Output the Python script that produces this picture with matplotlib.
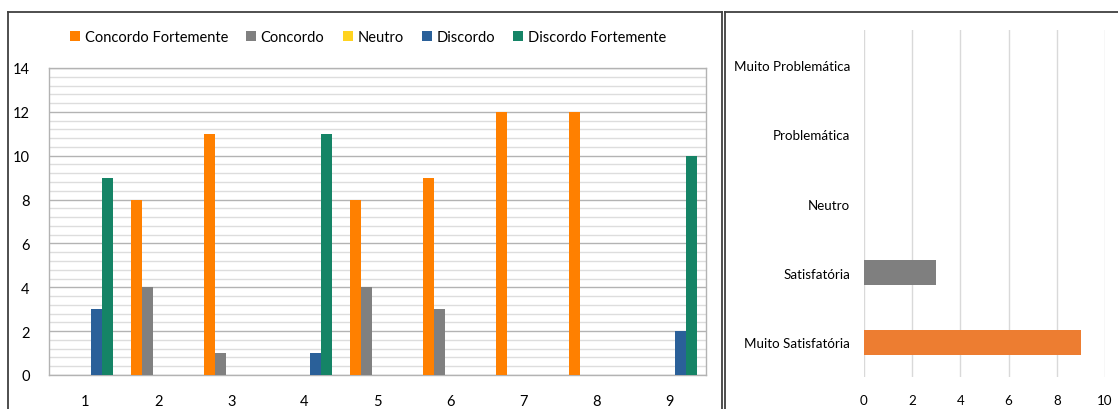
import numpy as np
import matplotlib
matplotlib.use("Agg")
import matplotlib.pyplot as plt
from matplotlib.lines import Line2D
from matplotlib.ticker import MultipleLocator

plt.rcParams['font.family'] = ['Lato', 'DejaVu Sans']

# left chart: answers per question
questions = ["1", "2", "3", "4", "5", "6", "7", "8", "9"]
series_names = ["Concordo Fortemente", "Concordo", "Neutro", "Discordo", "Discordo Fortemente"]
concordo_fortemente = [0, 8, 11, 0, 8, 9, 12, 12, 0]
concordo = [0, 4, 1, 0, 4, 3, 0, 0, 0]
neutro = [0, 0, 0, 0, 0, 0, 0, 0, 0]
discordo = [3, 0, 0, 1, 0, 0, 0, 0, 2]
discordo_fortemente = [9, 0, 0, 11, 0, 0, 0, 0, 10]
series_colors = ["#ff8000", "#808080", "#ffd320", "#2a6099", "#158466"]

# right chart: overall rating
ratings = ["Muito Satisfatória", "Satisfatória", "Neutro", "Problemática", "Muito Problemática"]
rating_counts = [9, 3, 0, 0, 0]
rating_colors = ["#ed7d31", "#7f7f7f", "#a5a5a5", "#ffc000", "#4472c4"]

W, H = 1118, 410
fig = plt.figure(figsize=(W / 100, H / 100), dpi=100)

# --- left panel ---
ax = fig.add_axes([49 / W, 1 - 376 / H, (706 - 49) / W, (376 - 69) / H])
x = np.arange(1, len(questions) + 1)
bw = 0.151
all_series = [concordo_fortemente, concordo, neutro, discordo, discordo_fortemente]
for i, (vals, name, col) in enumerate(zip(all_series, series_names, series_colors)):
    ax.bar(x + (i - 2) * bw, vals, width=bw, color=col, label=name, zorder=3)

ax.set_xlim(0.5, 9.5)
ax.set_ylim(0, 14)
ax.yaxis.set_major_locator(MultipleLocator(2))
ax.yaxis.set_minor_locator(MultipleLocator(0.4))
ax.grid(axis='y', which='major', color='#b3b3b3', lw=1.0, zorder=0)
ax.grid(axis='y', which='minor', color='#dddddd', lw=1.0, zorder=0)
ax.set_xticks(x)
ax.set_xticklabels(questions)
ax.tick_params(axis='both', which='both', length=0, labelsize=10.5, colors='black')
ax.tick_params(axis='x', pad=14)
ax.tick_params(axis='y', pad=14)
for s in ax.spines.values():
    s.set_color('#b3b3b3')
    s.set_linewidth(1.0)

leg = fig.legend(loc='center', bbox_to_anchor=(368 / W, 1 - 38 / H), ncol=5,
                 frameon=False, fontsize=10.5, handlelength=0.7, handleheight=0.7,
                 handletextpad=0.3, columnspacing=1.25)

# --- right panel ---
ax2 = fig.add_axes([864 / W, 1 - 378 / H, (1105 - 864) / W, (378 - 31) / H])
y = np.arange(len(ratings))
ax2.barh(y, rating_counts, height=0.36, color=rating_colors, zorder=3)
ax2.set_xlim(0, 10)
ax2.set_ylim(-0.5, 4.5)
ax2.set_xticks(np.arange(0, 11, 2))
ax2.set_yticks(y)
ax2.set_yticklabels(ratings)
ax2.grid(axis='x', color='#d9d9d9', lw=1.0, zorder=0)
ax2.tick_params(axis='both', length=0, labelsize=9.6, colors='black')
ax2.tick_params(axis='x', pad=12)
ax2.tick_params(axis='y', pad=10)
for s in ax2.spines.values():
    s.set_visible(False)

# panel frames
frame = dict(color='#404040', lw=1.3, transform=fig.transFigure)
top = 1 - 13 / H
fig.add_artist(Line2D([8 / W, 8 / W], [0, top], **frame))
fig.add_artist(Line2D([8 / W, 722 / W], [top, top], **frame))
fig.add_artist(Line2D([722 / W, 722 / W], [0, top], **frame))
fig.add_artist(Line2D([725 / W, 725 / W], [0, top], **frame))
fig.add_artist(Line2D([725 / W, 1.0], [top, top], **frame))

fig.savefig("out.png", dpi=100)
